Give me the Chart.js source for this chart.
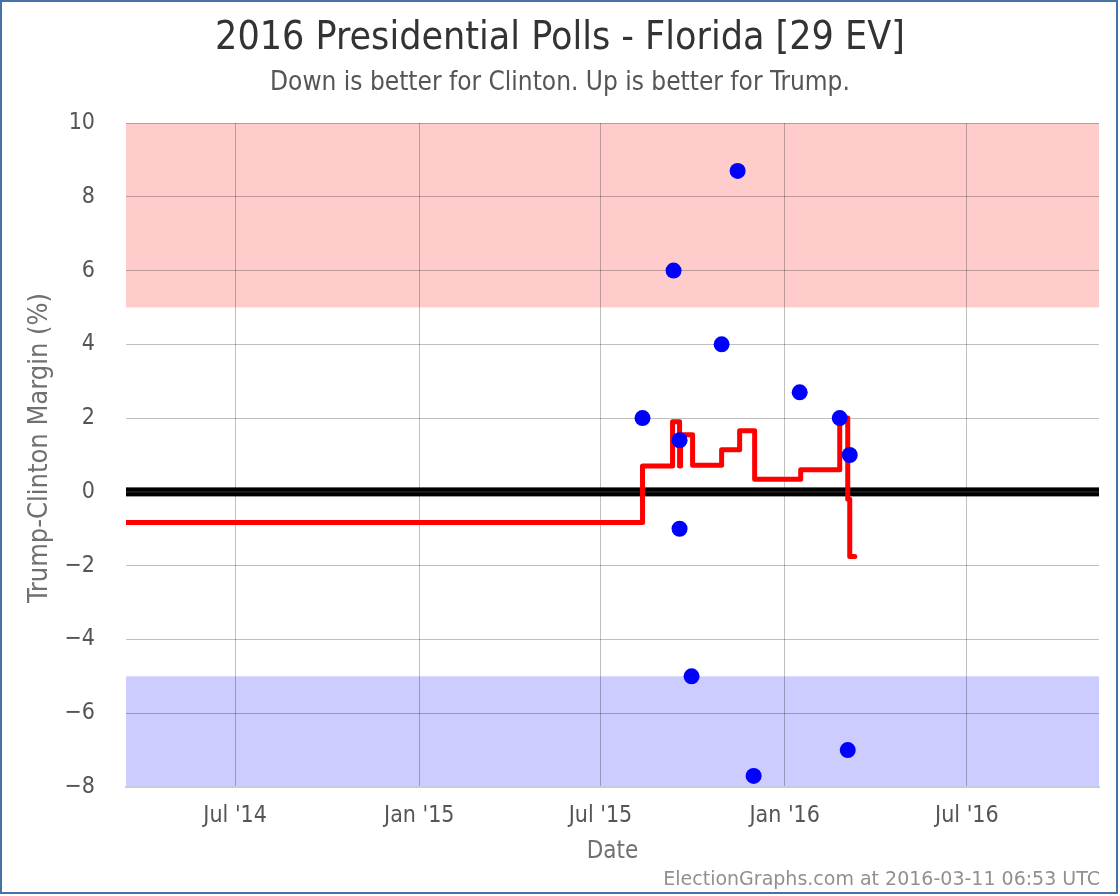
<!DOCTYPE html>
<html>
<head>
<meta charset="utf-8">
<script src="https://cdn.jsdelivr.net/npm/chart.js@4.4.0/dist/chart.umd.min.js"></script>
<style>
  body { margin: 0; background: #fff; }
  #wrap { position: absolute; left: 0; top: 0; width: 1114px; height: 890px; border: 2px solid #4572a7; }
</style>
</head>
<body>
<div id="wrap"><canvas id="chart" width="1114" height="890"></canvas></div>
<script>
// polls
const pollDates = ["2015-08-12", "2015-09-12", "2015-09-18", "2015-09-18", "2015-09-30", "2015-10-30",
  "2015-11-15", "2015-12-01", "2016-01-16", "2016-02-25", "2016-03-04", "2016-03-06"];
const pollValues = [2, 6, 1.4, -1, -5, 4, 8.7, -7.7, 2.7, 2, -7, 1];

// poll average (step line)
const avgDates = ["2014-03-14", "2015-08-12", "2015-09-11", "2015-09-18", "2015-09-19", "2015-10-01",
  "2015-10-30", "2015-11-17", "2015-12-02", "2016-01-17", "2016-02-25", "2016-03-04", "2016-03-06", "2016-03-11"];
const avgValues = [-0.83, 0.7, 1.9, 0.7, 1.55, 0.72, 1.14, 1.66, 0.34, 0.6, 2.0, -0.2, -1.75, -1.75];

const tickDates = ["2014-07-01", "2015-01-01", "2015-07-01", "2016-01-01", "2016-07-01"];
const tickLabels = ["Jul '14", "Jan '15", "Jul '15", "Jan '16", "Jul '16"];

const axisStart = "2014-03-14";
const axisEnd = "2016-11-10";

const toDay = (s) => {
  const p = s.split("-").map(Number);
  return Date.UTC(p[0], p[1] - 1, p[2]) / 86400000;
};

const condensed = "'DejaVu Sans Condensed', 'DejaVu Sans', sans-serif";

// pink/blue bands and the zero line
const bands = {
  id: "bands",
  beforeDraw: (chart) => {
    const { ctx, chartArea, scales } = chart;
    const y = scales.y;
    ctx.save();
    ctx.fillStyle = "#ffcccc";
    ctx.fillRect(chartArea.left, y.getPixelForValue(10), chartArea.width, y.getPixelForValue(5) - y.getPixelForValue(10));
    ctx.fillStyle = "#ccccff";
    ctx.fillRect(chartArea.left, y.getPixelForValue(-5), chartArea.width, y.getPixelForValue(-8) - y.getPixelForValue(-5));
    ctx.restore();
  },
  beforeDatasetsDraw: (chart) => {
    const { ctx, chartArea, scales } = chart;
    const y0 = scales.y.getPixelForValue(0);
    ctx.save();
    ctx.fillStyle = "#000";
    ctx.fillRect(chartArea.left, y0 - 4.5, chartArea.width, 9);
    ctx.fillStyle = "#333";
    ctx.fillRect(chartArea.left, y0 - 0.5, chartArea.width, 1);
    ctx.restore();
  },
};

// titles and credits
const texts = {
  id: "texts",
  afterDraw: (chart) => {
    const { ctx, chartArea } = chart;
    ctx.save();
    ctx.textAlign = "center";
    ctx.textBaseline = "middle";
    ctx.fillStyle = "#333333";
    ctx.font = "39px " + condensed;
    ctx.fillText("2016 Presidential Polls - Florida [29 EV]", 558, 37);
    ctx.fillStyle = "#555555";
    ctx.font = "26px " + condensed;
    ctx.fillText("Down is better for Clinton. Up is better for Trump.", 558, 81);
    ctx.fillStyle = "#707070";
    ctx.font = "24px " + condensed;
    ctx.fillText("Date", (chartArea.left + chartArea.right) / 2, 850);
    ctx.save();
    ctx.font = "27px " + condensed;
    ctx.translate(38, 446);
    ctx.rotate(-Math.PI / 2);
    ctx.fillText("Trump-Clinton Margin (%)", 0, 0);
    ctx.restore();
    ctx.textAlign = "right";
    ctx.fillStyle = "#909090";
    ctx.font = "19px 'DejaVu Sans', sans-serif";
    ctx.fillText("ElectionGraphs.com at 2016-03-11 06:53 UTC", 1098, 878);
    ctx.restore();
  },
};

const ctx = document.querySelector("#chart").getContext("2d");

new Chart(ctx, {
  type: "scatter",
  data: {
    datasets: [
      {
        label: "Polls",
        data: pollDates.map((d, i) => ({ x: toDay(d), y: pollValues[i] })),
        backgroundColor: "#0000ff",
        borderWidth: 0,
        pointRadius: 8,
        pointHoverRadius: 8,
      },
      {
        label: "Average",
        data: avgDates.map((d, i) => ({ x: toDay(d), y: avgValues[i] })),
        showLine: true,
        stepped: true,
        borderColor: "#ff0000",
        borderWidth: 5,
        borderCapStyle: "round",
        borderJoinStyle: "round",
        pointRadius: 0,
        pointHoverRadius: 0,
      },
    ],
  },
  plugins: [bands, texts],
  options: {
    responsive: false,
    animation: false,
    events: [],
    layout: { padding: { top: 121, right: 17, bottom: 0, left: 0 } },
    plugins: {
      legend: { display: false },
      tooltip: { enabled: false },
    },
    scales: {
      x: {
        type: "linear",
        min: toDay(axisStart),
        max: toDay(axisEnd),
        afterBuildTicks: (scale) => {
          scale.ticks = tickDates.map((d) => ({ value: toDay(d) }));
        },
        afterFit: (scale) => {
          scale.height = 105;
        },
        ticks: {
          autoSkip: false,
          maxRotation: 0,
          padding: 15,
          color: "#555555",
          font: { family: condensed, size: 23 },
          callback: (value, index) => tickLabels[index],
        },
        grid: { color: "rgba(0,0,0,0.25)", drawTicks: false },
        border: { color: "#c0d0e0", width: 2 },
      },
      y: {
        min: -8,
        max: 10,
        afterFit: (scale) => {
          scale.width = 124;
        },
        ticks: {
          stepSize: 2,
          padding: 31,
          color: "#555555",
          font: { family: condensed, size: 23 },
          callback: (value) => String(value).replace("-", "\u2212"),
        },
        grid: { color: "rgba(0,0,0,0.25)", drawTicks: false },
        border: { display: false },
      },
    },
  },
});
</script>
</body>
</html>
